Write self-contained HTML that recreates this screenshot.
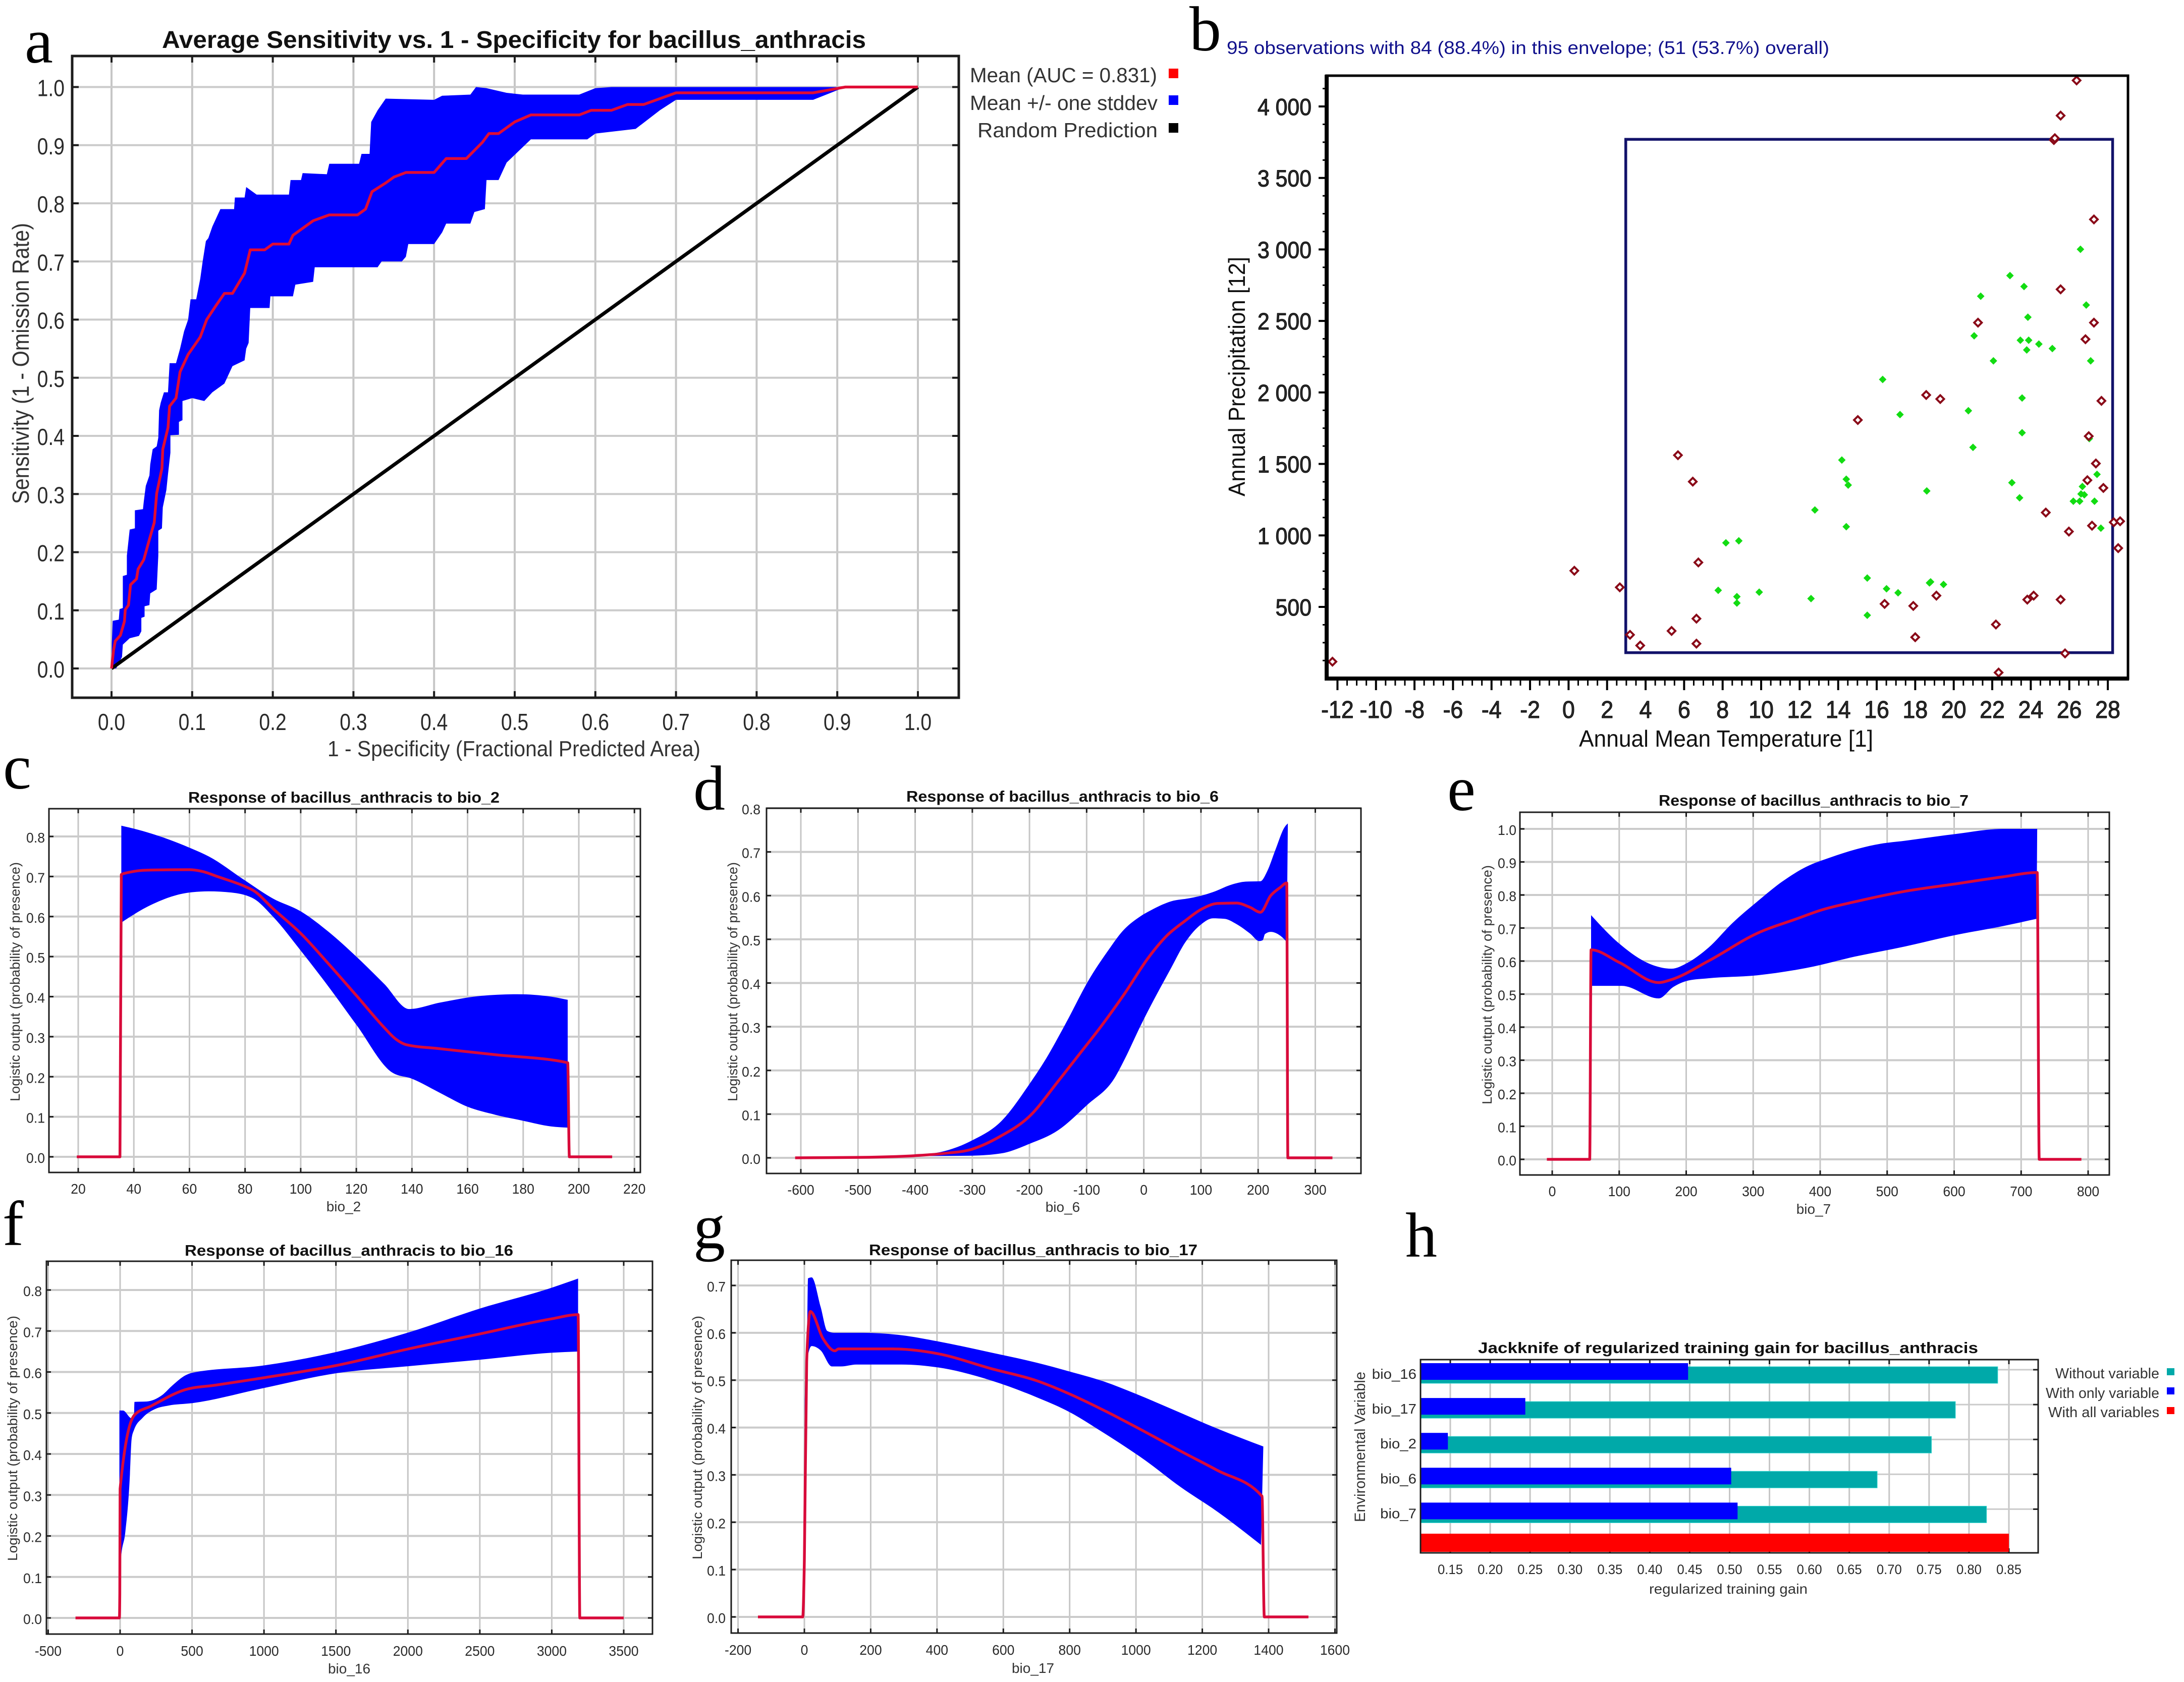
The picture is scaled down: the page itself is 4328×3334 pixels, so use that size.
<!DOCTYPE html>
<html lang="en">
<head>
<meta charset="utf-8">
<title>Bacillus anthracis MaxEnt model results</title>
<style>
html,body{margin:0;padding:0;background:#fff;}
svg{display:block;font-family:"Liberation Sans",Arial,sans-serif;}
.letter{font-family:"Liberation Serif","Times New Roman",serif;font-size:126px;fill:#000;}
.ttl{font-weight:bold;fill:#111;}
.lab{fill:#333;}
</style>
</head>
<body>
<svg id="chart" xmlns="http://www.w3.org/2000/svg" width="4328" height="3334" viewBox="0 0 4328 3334">
<rect x="0" y="0" width="4328" height="3334" fill="#fff"/>

<text class="letter" x="49" y="124">a</text>
<text class="letter" x="2357" y="100">b</text>
<text class="letter" x="6" y="1563">c</text>
<text class="letter" x="1374" y="1605">d</text>
<text class="letter" x="2868" y="1606">e</text>
<text class="letter" x="5" y="2468">f</text>
<text class="letter" x="1374" y="2474">g</text>
<text class="letter" x="2785" y="2491">h</text>

<g id="panel-a"></g>
<text class="ttl" x="321" y="95" font-size="48" textLength="1395" lengthAdjust="spacingAndGlyphs">Average Sensitivity vs. 1 - Specificity for bacillus_anthracis</text>
<text class="lab" x="649" y="1499" font-size="44" textLength="739" lengthAdjust="spacingAndGlyphs">1 - Specificity (Fractional Predicted Area)</text>
<text class="lab" transform="translate(57,999) rotate(-90)" font-size="46" textLength="557" lengthAdjust="spacingAndGlyphs">Sensitivity (1 - Omission Rate)</text>
<g>
<text class="lab" x="1922" y="163" font-size="41" textLength="371" lengthAdjust="spacingAndGlyphs">Mean (AUC = 0.831)</text>
<text class="lab" x="1922" y="218" font-size="41" textLength="372" lengthAdjust="spacingAndGlyphs">Mean +/- one stddev</text>
<text class="lab" x="1937" y="272" font-size="41" textLength="357" lengthAdjust="spacingAndGlyphs">Random Prediction</text>
<rect x="2316" y="136" width="19" height="19" fill="#f00"/>
<rect x="2316" y="189" width="19" height="19" fill="#00f"/>
<rect x="2316" y="244" width="19" height="19" fill="#000"/>
</g>

<g id="panel-b"></g>
<text x="2431" y="107" font-size="36" fill="#10108c" textLength="1194" lengthAdjust="spacingAndGlyphs">95 observations with 84 (88.4%) in this envelope; (51 (53.7%) overall)</text>
<text class="lab" x="3129" y="1480" font-size="46" textLength="583" lengthAdjust="spacingAndGlyphs" style="fill:#111">Annual Mean Temperature [1]</text>
<text class="lab" transform="translate(2467,984) rotate(-90)" font-size="46" textLength="475" lengthAdjust="spacingAndGlyphs" style="fill:#111">Annual Precipitation [12]</text>

<g id="panel-c"></g>
<text class="ttl" x="373" y="1591" font-size="31" textLength="617" lengthAdjust="spacingAndGlyphs">Response of bacillus_anthracis to bio_2</text>
<text class="lab" x="681" y="2401" font-size="28" text-anchor="middle">bio_2</text>
<text class="lab" transform="translate(39,2183) rotate(-90)" font-size="27" textLength="474" lengthAdjust="spacingAndGlyphs">Logistic output (probability of presence)</text>

<g id="panel-d"></g>
<text class="ttl" x="1796" y="1589" font-size="31" textLength="619" lengthAdjust="spacingAndGlyphs">Response of bacillus_anthracis to bio_6</text>
<text class="lab" x="2106" y="2402" font-size="28" text-anchor="middle">bio_6</text>
<text class="lab" transform="translate(1461,2183) rotate(-90)" font-size="27" textLength="474" lengthAdjust="spacingAndGlyphs">Logistic output (probability of presence)</text>

<g id="panel-e"></g>
<text class="ttl" x="3287" y="1597" font-size="31" textLength="614" lengthAdjust="spacingAndGlyphs">Response of bacillus_anthracis to bio_7</text>
<text class="lab" x="3594" y="2406" font-size="28" text-anchor="middle">bio_7</text>
<text class="lab" transform="translate(2956,2189) rotate(-90)" font-size="27" textLength="474" lengthAdjust="spacingAndGlyphs">Logistic output (probability of presence)</text>

<g id="panel-f"></g>
<text class="ttl" x="366" y="2489" font-size="31" textLength="651" lengthAdjust="spacingAndGlyphs">Response of bacillus_anthracis to bio_16</text>
<text class="lab" x="692" y="3317" font-size="28" text-anchor="middle">bio_16</text>
<text class="lab" transform="translate(34,3094) rotate(-90)" font-size="27" textLength="486" lengthAdjust="spacingAndGlyphs">Logistic output (probability of presence)</text>

<g id="panel-g"></g>
<text class="ttl" x="1722" y="2488" font-size="31" textLength="651" lengthAdjust="spacingAndGlyphs">Response of bacillus_anthracis to bio_17</text>
<text class="lab" x="2047" y="3316" font-size="28" text-anchor="middle">bio_17</text>
<text class="lab" transform="translate(1391,3091) rotate(-90)" font-size="27" textLength="483" lengthAdjust="spacingAndGlyphs">Logistic output (probability of presence)</text>

<g id="panel-h"></g>
<text class="ttl" x="2929" y="2682" font-size="31" textLength="991" lengthAdjust="spacingAndGlyphs">Jackknife of regularized training gain for bacillus_anthracis</text>
<text class="lab" x="3268" y="3159" font-size="28" textLength="314" lengthAdjust="spacingAndGlyphs">regularized training gain</text>
<text class="lab" transform="translate(2705,3017) rotate(-90)" font-size="30" textLength="298" lengthAdjust="spacingAndGlyphs">Environmental Variable</text>
<g>
<text class="lab" x="4073" y="2732" font-size="29" textLength="206" lengthAdjust="spacingAndGlyphs">Without variable</text>
<text class="lab" x="4054" y="2771" font-size="29" textLength="225" lengthAdjust="spacingAndGlyphs">With only variable</text>
<text class="lab" x="4059" y="2809" font-size="29" textLength="220" lengthAdjust="spacingAndGlyphs">With all variables</text>
<rect x="4294" y="2712" width="15" height="14" fill="#00a9a9"/>
<rect x="4294" y="2750" width="15" height="14" fill="#00f"/>
<rect x="4294" y="2789" width="15" height="14" fill="#f00"/>
</g>
</svg>

<script>
/* ---------- panel a: ROC ---------- */
const rocTicks = ['0.0','0.1','0.2','0.3','0.4','0.5','0.6','0.7','0.8','0.9','1.0'];
const rocMeanX = [0,0.0025,0.0046,0.011,0.016,0.017,0.021,0.0236,0.031,0.033,0.04,0.046,0.053,0.056,0.0625,0.0636,0.07,0.072,0.08,0.085,0.095,0.11,0.118,0.13,0.14,0.15,0.165,0.172,0.19,0.2,0.22,0.225,0.24,0.25,0.27,0.305,0.315,0.323,0.34,0.35,0.365,0.4,0.415,0.44,0.46,0.468,0.48,0.5,0.52,0.58,0.595,0.62,0.64,0.66,0.7,0.87,0.91,1];
const rocMeanY = [0,0.031,0.047,0.057,0.081,0.101,0.109,0.144,0.154,0.171,0.187,0.217,0.251,0.301,0.344,0.377,0.414,0.451,0.465,0.51,0.54,0.57,0.6,0.625,0.645,0.645,0.68,0.72,0.72,0.73,0.73,0.745,0.76,0.77,0.78,0.78,0.79,0.82,0.835,0.845,0.853,0.853,0.877,0.877,0.905,0.92,0.92,0.94,0.952,0.952,0.96,0.96,0.97,0.97,0.99,0.99,1,1];
const rocUpperX = [0,0.0004,0.0015,0.009,0.01,0.014,0.014,0.019,0.019,0.0225,0.029,0.029,0.039,0.04,0.0425,0.047,0.048,0.051,0.056,0.058,0.059,0.061,0.065,0.07,0.072,0.08,0.085,0.09,0.095,0.098,0.105,0.11,0.113,0.117,0.12,0.125,0.135,0.152,0.153,0.165,0.167,0.175,0.18,0.22,0.222,0.235,0.237,0.267,0.27,0.307,0.31,0.32,0.322,0.33,0.34,0.4,0.41,0.445,0.452,0.465,0.49,0.51,0.58,0.6,0.62,1];
const rocUpperY = [0,0.044,0.082,0.084,0.102,0.104,0.159,0.161,0.194,0.239,0.241,0.272,0.274,0.287,0.314,0.332,0.351,0.377,0.382,0.397,0.444,0.457,0.475,0.475,0.525,0.525,0.55,0.58,0.6,0.635,0.635,0.67,0.7,0.735,0.74,0.76,0.79,0.79,0.81,0.81,0.828,0.82,0.815,0.815,0.84,0.84,0.852,0.85,0.868,0.868,0.885,0.885,0.94,0.96,0.98,0.978,0.985,0.987,1,0.998,0.99,0.987,0.987,0.998,1,1];
const rocLowerX = [0,0.0057,0.013,0.014,0.0225,0.034,0.037,0.037,0.041,0.041,0.047,0.048,0.056,0.058,0.058,0.0625,0.0636,0.068,0.07,0.073,0.073,0.0836,0.0836,0.088,0.088,0.1,0.115,0.125,0.14,0.15,0.165,0.167,0.17,0.172,0.196,0.197,0.225,0.228,0.25,0.252,0.33,0.335,0.36,0.365,0.368,0.4,0.41,0.415,0.445,0.45,0.463,0.465,0.48,0.49,0.505,0.52,0.59,0.6,0.65,0.68,0.7,0.87,0.91,1];
const rocLowerY = [0,0,0.02,0.041,0.052,0.056,0.064,0.087,0.089,0.107,0.109,0.129,0.136,0.194,0.237,0.241,0.277,0.307,0.334,0.371,0.401,0.402,0.424,0.427,0.46,0.465,0.46,0.475,0.49,0.52,0.53,0.55,0.56,0.62,0.62,0.64,0.64,0.66,0.665,0.69,0.69,0.7,0.7,0.708,0.73,0.73,0.75,0.765,0.765,0.785,0.79,0.84,0.84,0.87,0.89,0.91,0.91,0.92,0.928,0.96,0.978,0.978,1,1];
const rocRandomX = [0,1];
const rocRandomY = [0,1];

/* ---------- panel b: envelope ---------- */
const envXTicks = [-12,-10,-8,-6,-4,-2,0,2,4,6,8,10,12,14,16,18,20,22,24,26,28];
const envYTicks = [500,1000,1500,2000,2500,3000,3500,4000];
const envYLabels = ['500','1 000','1 500','2 000','2 500','3 000','3 500','4 000'];
const envBoxX = [2.97,28.25];
const envBoxY = [180,3770];
const outsideTemp = [-12.26,0.3,2.66,3.19,3.72,5.35,6.64,6.64,6.74,5.68,6.45,15.02,16.41,17.9,18,18.57,19.3,19.1,21.26,22.19,22.33,23.82,24.15,24.78,25.55,25.2,25.25,25.55,26.38,25.55,27.28,27.28,26.84,27.67,27.01,27.38,26.94,27.77,27.18,25.98,28.31,28.64,28.54,25.78];
const outsidePrecip = [117,753,637,305,230,332,418,243,811,1561,1376,1807,521,507,288,1982,1954,579,2488,377,41,551,579,1160,551,3765,3778,3936,4182,2721,3210,2488,2372,1941,1694,1503,1386,1332,1068,1027,1092,1099,911,175];
const insideTemp = [26.58,22.92,23.65,21.4,26.88,23.85,21.06,23.46,23.89,24.42,25.12,23.79,22.06,27.11,16.31,23.55,17.21,20.76,23.55,27.04,21,14.19,14.42,14.52,18.6,23.02,23.42,27.44,26.68,26.61,26.78,26.21,26.54,27.31,12.79,14.42,27.64,8.17,8.84,15.51,16.51,17.11,18.8,18.74,19.47,7.77,9.9,8.74,8.74,12.59,15.51];
const insidePrecip = [3001,2817,2741,2673,2611,2526,2396,2365,2365,2338,2307,2297,2221,2221,2091,1961,1845,1872,1718,1677,1616,1527,1393,1352,1311,1369,1263,1427,1342,1290,1284,1239,1239,1239,1178,1061,1051,948,962,702,627,599,675,668,657,616,603,572,527,558,442];

/* ---------- panel c: bio_2 ---------- */
const bio2Ticks = [20,40,60,80,100,120,140,160,180,200,220];
const bio2YTicks = ['0.0','0.1','0.2','0.3','0.4','0.5','0.6','0.7','0.8'];
const bio2MeanX = [19.5,35,35.5,38,45,60,65,70,80,83,90,100,110,120,130,134,138,150,170,196,196.6,212];
const bio2MeanY = [0,0,0.705,0.71,0.716,0.717,0.712,0.7,0.675,0.665,0.62,0.558,0.482,0.403,0.323,0.295,0.28,0.27,0.255,0.235,0,0];
const bio2UpperX = [35.5,45,60,67,80,90,100,110,120,130,139,150,165,178,190,196];
const bio2UpperY = [0.827,0.81,0.772,0.75,0.69,0.645,0.613,0.562,0.5,0.432,0.369,0.385,0.402,0.406,0.4,0.392];
const bio2LowerX = [35.5,45,60,67,75,83,90,100,110,120,133,140,150,160,170,180,190,196];
const bio2LowerY = [0.585,0.625,0.66,0.663,0.66,0.645,0.6,0.515,0.425,0.33,0.21,0.195,0.16,0.125,0.105,0.09,0.076,0.073];

/* ---------- panel d: bio_6 ---------- */
const bio6Ticks = [-600,-500,-400,-300,-200,-100,0,100,200,300];
const bio6YTicks = ['0.0','0.1','0.2','0.3','0.4','0.5','0.6','0.7','0.8'];
const bio6MeanX = [-610,-500,-400,-350,-300,-250,-200,-150,-114,-73,-33,8,40,72,101,129,162,186,204,222,239,250,252,330];
const bio6MeanY = [0,0.001,0.005,0.01,0.02,0.05,0.095,0.175,0.235,0.304,0.377,0.458,0.508,0.542,0.569,0.582,0.583,0.573,0.562,0.6,0.619,0.629,0,0];
const bio6UpperX = [-400,-350,-300,-250,-200,-171,-138,-94,-61,-37,-9,16,48,80,101,121,153,178,204,216,230,247,252];
const bio6UpperY = [0.006,0.015,0.04,0.083,0.169,0.227,0.304,0.412,0.477,0.519,0.55,0.569,0.587,0.594,0.6,0.608,0.625,0.632,0.633,0.656,0.704,0.758,0.765];
const bio6LowerX = [-400,-300,-250,-200,-150,-100,-50,-33,-5,48,72,101,121,141,162,186,202,208,212,222,239,250];
const bio6LowerY = [0.004,0.005,0.01,0.032,0.063,0.12,0.185,0.227,0.304,0.435,0.492,0.535,0.548,0.547,0.535,0.513,0.496,0.498,0.512,0.517,0.508,0.494];

/* ---------- panel e: bio_7 ---------- */
const bio7Ticks = [0,100,200,300,400,500,600,700,800];
const bio7YTicks = ['0.0','0.1','0.2','0.3','0.4','0.5','0.6','0.7','0.8','0.9','1.0'];
const bio7MeanX = [-8,56,58,100,159,178,233,306,365,401,453,526,600,673,724,727,790];
const bio7MeanY = [0,0,0.634,0.596,0.535,0.544,0.6,0.684,0.728,0.754,0.78,0.811,0.833,0.855,0.868,0,0];
const bio7UpperX = [58,100,145,178,203,233,269,306,343,379,416,453,490,526,600,673,724];
const bio7UpperY = [0.739,0.653,0.592,0.577,0.596,0.64,0.715,0.78,0.84,0.885,0.914,0.938,0.955,0.964,0.984,1,1];
const bio7LowerX = [58,104,159,181,203,233,306,379,453,526,600,673,723];
const bio7LowerY = [0.525,0.525,0.487,0.522,0.541,0.548,0.557,0.579,0.614,0.644,0.678,0.706,0.728];

/* ---------- panel f: bio_16 ---------- */
const bio16Ticks = [-500,0,500,1000,1500,2000,2500,3000,3500];
const bio16YTicks = ['0.0','0.1','0.2','0.3','0.4','0.5','0.6','0.7','0.8'];
const bio16MeanX = [-310,-5,-2,0,100,216,455,665,1000,1504,2000,2502,3003,3183,3195,3500];
const bio16MeanY = [0,0,0.06,0.315,0.495,0.517,0.557,0.568,0.586,0.616,0.656,0.693,0.73,0.74,0,0];
const bio16UpperX = [-5,20,80,96,100,186,290,366,455,500,1000,1504,2000,2502,3003,3183];
const bio16UpperY = [0.506,0.506,0.487,0.487,0.527,0.528,0.543,0.568,0.592,0.598,0.616,0.649,0.696,0.755,0.806,0.828];
const bio16LowerX = [-5,6,36,66,80,96,156,246,336,500,1000,1504,2000,2502,3003,3183];
const bio16LowerY = [0.07,0.143,0.209,0.334,0.436,0.458,0.488,0.51,0.518,0.524,0.561,0.597,0.614,0.63,0.647,0.65];

/* ---------- panel g: bio_17 ---------- */
const bio17Ticks = [-200,0,200,400,600,800,1000,1200,1400,1600];
const bio17YTicks = ['0.0','0.1','0.2','0.3','0.4','0.5','0.6','0.7'];
const bio17MeanX = [-140,-5,0,7,18,56,92,103,266,402,565,700,796,904,1027,1135,1244,1380,1387,1520];
const bio17MeanY = [0,0,0.12,0.54,0.645,0.588,0.562,0.566,0.566,0.556,0.524,0.499,0.472,0.436,0.391,0.35,0.31,0.255,0,0];
const bio17UpperX = [0,1,8,11,22,49,69,90,178,293,402,565,700,796,904,1000,1108,1244,1384];
const bio17UpperY = [0.22,0.45,0.585,0.715,0.717,0.655,0.604,0.6,0.6,0.595,0.582,0.558,0.537,0.519,0.497,0.471,0.439,0.398,0.36];
const bio17LowerX = [0,1,5,11,22,49,83,110,157,293,402,565,700,796,904,1027,1135,1244,1377];
const bio17LowerY = [0.1,0.255,0.477,0.553,0.572,0.563,0.529,0.529,0.533,0.533,0.527,0.499,0.464,0.434,0.388,0.331,0.274,0.223,0.152];

/* ---------- panel h: jackknife ---------- */
const jackVars = ['bio_16','bio_17','bio_2','bio_6','bio_7'];
const jackWithout = [0.836,0.783,0.753,0.685,0.822];
const jackOnly = [0.448,0.244,0.147,0.502,0.51];
const jackAll = [0.85];
const jackTicks = ['0.15','0.20','0.25','0.30','0.35','0.40','0.45','0.50','0.55','0.60','0.65','0.70','0.75','0.80','0.85'];

/* ---------- helpers ---------- */
const NS = 'http://www.w3.org/2000/svg';
function linear(d0, d1, r0, r1) {
  return v => r0 + (v - d0) * (r1 - r0) / (d1 - d0);
}
function make(tag, attrs, parent) {
  const e = document.createElementNS(NS, tag);
  for (const k in attrs) e.setAttribute(k, attrs[k]);
  parent.appendChild(e);
  return e;
}
function seg(parent, x1, y1, x2, y2, color, w, name) {
  const e = make('line', {x1: x1, y1: y1, x2: x2, y2: y2, stroke: color, 'stroke-width': w}, parent);
  
  
  return e;
}
function tickText(parent, str, x, y, anchor, size, sx, name) {
  const e = make('text', {transform: 'translate(' + x + ',' + y + ') scale(' + sx + ',1)', 'font-size': size, 'text-anchor': anchor, fill: '#2a2a2a'}, parent);
  e.textContent = str;
  
  
  return e;
}
function grid(parent, o) {
  o.xVals.forEach(v => {
    seg(parent, o.xs(v), o.t, o.xs(v), o.b, '#c6c6c6', o.gridV, 'vertical-gridline');
  });
  o.yVals.forEach(v => {
    seg(parent, o.l, o.ys(v), o.r, o.ys(v), '#cbcbcb', o.gridH, 'horizontal-gridline');
  });
}
function frame(parent, o) {
  const f = make('rect', {x: o.l, y: o.t, width: o.r - o.l, height: o.b - o.t, fill: 'none', stroke: '#1c1c1c', 'stroke-width': o.frameW}, parent);
  
  
  o.xVals.forEach((v, i) => {
    seg(parent, o.xs(v), o.t, o.xs(v), o.t + o.tick, '#1c1c1c', o.tickW, 'top-tick');
    seg(parent, o.xs(v), o.b, o.xs(v), o.b - o.tick, '#1c1c1c', o.tickW, 'x-tick');
    tickText(parent, o.xLabels[i], o.xs(v), o.xBase, 'middle', o.font, o.sx, 'x-tick-label');
  });
  o.yVals.forEach((v, i) => {
    seg(parent, o.l, o.ys(v), o.l + o.tick, o.ys(v), '#1c1c1c', o.tickW, 'y-tick');
    seg(parent, o.r, o.ys(v), o.r - o.tick, o.ys(v), '#1c1c1c', o.tickW, 'right-tick');
    tickText(parent, o.yLabels[i], o.yRight, o.ys(v) + o.yDy, 'end', o.font, o.sx, 'y-tick-label');
  });
}
function toPts(xArr, yArr, xs, ys) {
  return xArr.map((x, i) => xs(x).toFixed(1) + ',' + ys(yArr[i]).toFixed(1));
}
function band(parent, ux, uy, lx, ly, xs, ys, name) {
  const pts = toPts(ux, uy, xs, ys).concat(toPts(lx, ly, xs, ys).reverse());
  const e = make('polygon', {points: pts.join(' '), fill: '#0000ff'}, parent);
  
  
  return e;
}
function curve(parent, mx, my, xs, ys, color, w, name) {
  const e = make('polyline', {points: toPts(mx, my, xs, ys).join(' '), fill: 'none', stroke: color, 'stroke-width': w, 'stroke-linejoin': 'round'}, parent);
  
  
  return e;
}
/* shape-preserving (monotone) smoothing of x-sorted values through the axis scales */
function tangents(px, py) {
  const n = px.length, t = new Array(n).fill(0);
  const sg = v => (v < 0 ? -1 : 1);
  for (let i = 1; i < n - 1; i++) {
    const h0 = px[i] - px[i - 1], h1 = px[i + 1] - px[i];
    const s0 = (py[i] - py[i - 1]) / h0, s1 = (py[i + 1] - py[i]) / h1;
    const p = (s0 * h1 + s1 * h0) / (h0 + h1);
    t[i] = (sg(s0) + sg(s1)) * Math.min(Math.abs(s0), Math.abs(s1), 0.5 * Math.abs(p));
  }
  t[0] = (3 * (py[1] - py[0]) / (px[1] - px[0]) - t[1]) / 2;
  t[n - 1] = (3 * (py[n - 1] - py[n - 2]) / (px[n - 1] - px[n - 2]) - t[n - 2]) / 2;
  return t;
}
function smoothForward(xa, ya, xs, ys) {
  const px = xa.map(xs), py = ya.map(ys), t = tangents(px, py);
  let d = '';
  for (let i = 0; i < px.length - 1; i++) {
    const dx = (px[i + 1] - px[i]) / 3;
    d += ' C' + (px[i] + dx).toFixed(1) + ' ' + (py[i] + dx * t[i]).toFixed(1) + ' ' + (px[i + 1] - dx).toFixed(1) + ' ' + (py[i + 1] - dx * t[i + 1]).toFixed(1) + ' ' + px[i + 1].toFixed(1) + ' ' + py[i + 1].toFixed(1);
  }
  return {start: px[0].toFixed(1) + ' ' + py[0].toFixed(1), body: d};
}
function smoothBackward(xa, ya, xs, ys) {
  const px = xa.map(xs), py = ya.map(ys), t = tangents(px, py);
  let d = '';
  for (let i = px.length - 1; i > 0; i--) {
    const dx = (px[i] - px[i - 1]) / 3;
    d += ' C' + (px[i] - dx).toFixed(1) + ' ' + (py[i] - dx * t[i]).toFixed(1) + ' ' + (px[i - 1] + dx).toFixed(1) + ' ' + (py[i - 1] + dx * t[i - 1]).toFixed(1) + ' ' + px[i - 1].toFixed(1) + ' ' + py[i - 1].toFixed(1);
  }
  const last = px.length - 1;
  return {start: px[last].toFixed(1) + ' ' + py[last].toFixed(1), body: d};
}
function smoothBand(parent, ux, uy, lx, ly, xs, ys, name) {
  const up = smoothForward(ux, uy, xs, ys), lo = smoothBackward(lx, ly, xs, ys);
  const e = make('path', {d: 'M' + up.start + up.body + ' L' + lo.start + lo.body + ' Z', fill: '#0000ff'}, parent);
  
  
  return e;
}
function smoothCurve(parent, mx, my, xs, ys, color, w, name) {
  const c = smoothForward(mx, my, xs, ys);
  const e = make('path', {d: 'M' + c.start + c.body, fill: 'none', stroke: color, 'stroke-width': w, 'stroke-linejoin': 'round'}, parent);
  
  
  return e;
}
function responsePanel(id, o, d) {
  const g = document.getElementById(id);
  o.xVals = d.xTicks;
  o.xLabels = d.xTicks.map(String);
  o.yVals = d.yTicks.map(parseFloat);
  o.yLabels = d.yTicks;
  o.gridV = 3; o.gridH = 4; o.tick = 9; o.tickW = 3; o.frameW = 3; o.font = 28; o.sx = 0.95; o.yDy = 12;
  grid(g, o);
  smoothBand(g, d.ux, d.uy, d.lx, d.ly, o.xs, o.ys, 'stddev-band');
  smoothCurve(g, d.mx, d.my, o.xs, o.ys, '#d80a3a', 5.5, 'mean-response-line');
  frame(g, o);
}

/* ---------- draw panel a ---------- */
(function () {
  const g = document.getElementById('panel-a');
  const o = {l: 143, r: 1900, t: 111, b: 1383,
    xs: linear(0, 1, 221, 1819), ys: linear(0, 1, 1325, 172.5),
    xVals: rocTicks.map(parseFloat), xLabels: rocTicks,
    yVals: rocTicks.map(parseFloat), yLabels: rocTicks,
    gridV: 4, gridH: 4, tick: 13, tickW: 4, frameW: 5,
    font: 46, sx: 0.85, xBase: 1447, yRight: 128, yDy: 18};
  grid(g, o);
  band(g, rocUpperX, rocUpperY, rocLowerX, rocLowerY, o.xs, o.ys, 'roc-stddev-band');
  curve(g, rocRandomX, rocRandomY, o.xs, o.ys, '#000', 7, 'random-prediction-line');
  curve(g, rocMeanX, rocMeanY, o.xs, o.ys, '#e00c34', 5.5, 'roc-mean-line');
  frame(g, o);
})();

/* ---------- draw panel b ---------- */
(function () {
  const g = document.getElementById('panel-b');
  const l = 2629, r = 4217, t = 150, b = 1345;
  const xs = linear(0, 28, 3108.4, 4177);
  const ys = linear(500, 4000, 1203, 211);
  const box = make('rect', {x: xs(envBoxX[0]), y: ys(envBoxY[1]), width: xs(envBoxX[1]) - xs(envBoxX[0]), height: ys(envBoxY[0]) - ys(envBoxY[1]), fill: 'none', stroke: '#12126a', 'stroke-width': 5.5}, g);
  
  
  insideTemp.forEach((tv, i) => {
    const x = xs(tv), y = ys(insidePrecip[i]);
    const m = make('polygon', {points: [x, y - 7.5, x + 7.5, y, x, y + 7.5, x - 7.5, y].join(' '), fill: '#12dc12'}, g);
    
    
  });
  outsideTemp.forEach((tv, i) => {
    const x = xs(tv), y = ys(outsidePrecip[i]);
    const m = make('polygon', {points: [x, y - 7.5, x + 7.5, y, x, y + 7.5, x - 7.5, y].join(' '), fill: '#fff', stroke: '#8a0a18', 'stroke-width': 4}, g);
    
    
  });
  const f = make('rect', {x: l, y: t, width: r - l, height: b - t, fill: 'none', stroke: '#000', 'stroke-width': 5}, g);
  
  
  seg(g, l, t - 2, l, b + 4, '#000', 8, 'envelope-left-axis');
  seg(g, l - 4, b, r + 2, b, '#000', 8, 'envelope-bottom-axis');
  envXTicks.forEach(v => {
    seg(g, xs(v), b, xs(v), b + 23, '#000', 4, 'x-major-tick');
    const lab = tickText(g, String(v), xs(v), 1423, 'middle', 48, 0.93, 'x-tick-label');
    lab.setAttribute('stroke', '#000');
    lab.setAttribute('stroke-width', '1');
  });
  for (let v = -12; v < 28; v += 0.5) {
    if (xs(v) > l) seg(g, xs(v), b, xs(v), b + 14, '#000', 3, 'x-minor-tick');
  }
  envYTicks.forEach((v, i) => {
    seg(g, l, ys(v), l - 16, ys(v), '#000', 4, 'y-major-tick');
    const lab = tickText(g, envYLabels[i], 2599, ys(v) + 17, 'end', 46, 0.93, 'y-tick-label');
    lab.setAttribute('stroke', '#000');
    lab.setAttribute('stroke-width', '1');
  });
  for (let v = 125; v < 4200; v += 125) {
    seg(g, l, ys(v), l - 8, ys(v), '#000', 3, 'y-minor-tick');
  }
})();

/* ---------- draw panels c-g ---------- */
responsePanel('panel-c', {l: 97, r: 1269, t: 1603, b: 2324,
  xs: linear(20, 200, 155, 1147), ys: linear(0, 0.8, 2293, 1658), xBase: 2366, yRight: 89},
  {xTicks: bio2Ticks, yTicks: bio2YTicks, mx: bio2MeanX, my: bio2MeanY, ux: bio2UpperX, uy: bio2UpperY, lx: bio2LowerX, ly: bio2LowerY});
responsePanel('panel-d', {l: 1519, r: 2697, t: 1602, b: 2326,
  xs: linear(-600, 300, 1587, 2606.5), ys: linear(0, 0.8, 2295, 1602), xBase: 2368, yRight: 1507},
  {xTicks: bio6Ticks, yTicks: bio6YTicks, mx: bio6MeanX, my: bio6MeanY, ux: bio6UpperX, uy: bio6UpperY, lx: bio6LowerX, ly: bio6LowerY});
responsePanel('panel-e', {l: 3012, r: 4180, t: 1610, b: 2329,
  xs: linear(0, 800, 3076, 4138), ys: linear(0, 1, 2298, 1643), xBase: 2371, yRight: 3005},
  {xTicks: bio7Ticks, yTicks: bio7YTicks, mx: bio7MeanX, my: bio7MeanY, ux: bio7UpperX, uy: bio7UpperY, lx: bio7LowerX, ly: bio7LowerY});
responsePanel('panel-f', {l: 92, r: 1293, t: 2500, b: 3239,
  xs: linear(0, 3500, 238, 1236), ys: linear(0, 0.8, 3207, 2557), xBase: 3282, yRight: 83},
  {xTicks: bio16Ticks, yTicks: bio16YTicks, mx: bio16MeanX, my: bio16MeanY, ux: bio16UpperX, uy: bio16UpperY, lx: bio16LowerX, ly: bio16LowerY});
responsePanel('panel-g', {l: 1449, r: 2649, t: 2498, b: 3237,
  xs: linear(0, 1400, 1594, 2514), ys: linear(0, 0.7, 3205, 2548), xBase: 3280, yRight: 1438},
  {xTicks: bio17Ticks, yTicks: bio17YTicks, mx: bio17MeanX, my: bio17MeanY, ux: bio17UpperX, uy: bio17UpperY, lx: bio17LowerX, ly: bio17LowerY});

/* ---------- draw panel h ---------- */
(function () {
  const g = document.getElementById('panel-h');
  const l = 2815, r = 4039, t = 2695, b = 3078;
  const xs = linear(0.15, 0.85, 2874, 3981);
  const rowStep = 69.1;
  const rowTop = i => 2702 + i * rowStep;
  jackTicks.forEach(s => {
    const v = parseFloat(s);
    seg(g, xs(v), t, xs(v), b, '#c6c6c6', 3, 'vertical-gridline');
    seg(g, xs(v), t, xs(v), t + 9, '#1c1c1c', 3, 'top-tick');
    seg(g, xs(v), b, xs(v), b - 9, '#1c1c1c', 3, 'x-tick');
    tickText(g, s, xs(v), 3120, 'middle', 27, 0.95, 'x-tick-label');
  });
  jackVars.forEach((name, i) => {
    const gridY = rowTop(i) + 13;
    seg(g, l, gridY, r, gridY, '#cbcbcb', 3, 'row-gridline');
    seg(g, r, gridY, r - 10, gridY, '#1c1c1c', 3, 'right-tick');
    const teal = make('rect', {x: l, y: rowTop(i) + 7, width: xs(jackWithout[i]) - l, height: 33, fill: '#00a9a9', stroke: '#38d8d0', 'stroke-width': 1}, g);
    
    
    const blue = make('rect', {x: l, y: rowTop(i), width: xs(jackOnly[i]) - l, height: 33, fill: '#0000ff'}, g);
    
    
    tickText(g, name, 2807, rowTop(i) + 31, 'end', 28, 1.05, 'y-tick-label');
  });
  const red = make('rect', {x: l, y: 3040, width: xs(jackAll[0]) - l, height: 36, fill: '#ff0000'}, g);
  
  
  const f = make('rect', {x: l, y: t, width: r - l, height: b - t, fill: 'none', stroke: '#1c1c1c', 'stroke-width': 3}, g);
  
  
})();
</script>
</body>
</html>
